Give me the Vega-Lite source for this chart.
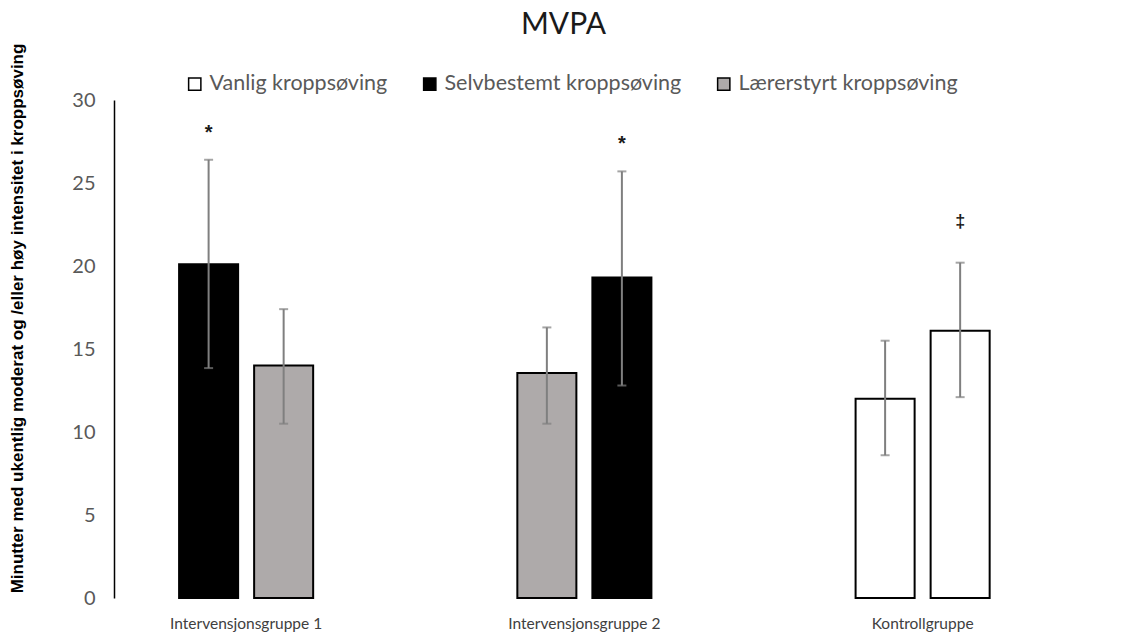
{
  "$schema": "https://vega.github.io/schema/vega-lite/v6.json",
  "autosize": "none",
  "width": 981,
  "height": 498,
  "padding": {"left": 114, "top": 100, "right": 30, "bottom": 43},
  "background": "white",
  "title": {"text": "MVPA", "font": "Lato", "fontSize": 30, "fontWeight": "normal", "color": "#1a1a1a", "anchor": "middle", "dx": -41, "offset": 3},
  "config": {"view": {"stroke": null}},
  "data": {"values": [
    {"gruppe": "Intervensjonsgruppe 1", "periode": "1", "type": "Selvbestemt kroppsøving", "mean": 20.1, "lo": 13.85, "hi": 26.4, "sig": "*"},
    {"gruppe": "Intervensjonsgruppe 1", "periode": "2", "type": "Lærerstyrt kroppsøving", "mean": 14.0, "lo": 10.5, "hi": 17.4, "sig": ""},
    {"gruppe": "Intervensjonsgruppe 2", "periode": "1", "type": "Lærerstyrt kroppsøving", "mean": 13.55, "lo": 10.5, "hi": 16.3, "sig": ""},
    {"gruppe": "Intervensjonsgruppe 2", "periode": "2", "type": "Selvbestemt kroppsøving", "mean": 19.3, "lo": 12.8, "hi": 25.7, "sig": "*"},
    {"gruppe": "Kontrollgruppe", "periode": "1", "type": "Vanlig kroppsøving", "mean": 12.0, "lo": 8.6, "hi": 15.5, "sig": ""},
    {"gruppe": "Kontrollgruppe", "periode": "2", "type": "Vanlig kroppsøving", "mean": 16.1, "lo": 12.1, "hi": 20.2, "sig": "‡"}
  ]},
  "encoding": {
    "x": {"field": "gruppe", "type": "nominal", "sort": null,
      "scale": {"range": [-37, 977.75], "paddingInner": 0.16, "paddingOuter": 0.08},
      "axis": {"title": null, "domain": false, "ticks": false, "labelAngle": 0, "labelFont": "Lato", "labelFontSize": 15.5, "labelColor": "#404040", "labelPadding": 18}},
    "xOffset": {"field": "periode", "type": "nominal", "scale": {"paddingInner": 0.2133, "paddingOuter": 1}}
  },
  "layer": [
    {
      "mark": {"type": "bar", "stroke": "black", "strokeWidth": 2},
      "encoding": {
        "y": {"field": "mean", "type": "quantitative",
          "scale": {"domain": [0, 30], "nice": false},
          "axis": {"values": [0, 5, 10, 15, 20, 25, 30], "grid": false, "ticks": false, "domainColor": "black", "domainWidth": 1.5,
            "labelFont": "Lato", "labelFontSize": 20, "labelColor": "#595959", "labelPadding": 19,
            "title": "Minutter med ukentlig moderat og /eller høy intensitet i kroppsøving",
            "titleFont": "Liberation Sans", "titleFontSize": 17, "titleFontWeight": "bold", "titleColor": "black",
            "titleAngle": -90, "titleX": -97, "titleY": 218, "titleAlign": "center", "titleBaseline": "middle"}},
        "fill": {"field": "type", "type": "nominal",
          "scale": {"domain": ["Vanlig kroppsøving", "Selvbestemt kroppsøving", "Lærerstyrt kroppsøving"], "range": ["#FFFFFF", "#000000", "#AEAAAA"]},
          "legend": {"title": null, "orient": "none", "direction": "horizontal", "legendX": 70, "legendY": -27,
            "symbolType": "square", "symbolSize": 150, "symbolStrokeColor": "black", "symbolStrokeWidth": 1.5,
            "labelFont": "Lato", "labelFontSize": 21.5, "labelColor": "#595959", "labelLimit": 400, "columnPadding": 31, "labelOffset": 4}}
      }
    },
    {
      "mark": {"type": "rule", "color": "#7F7F7F", "strokeWidth": 2},
      "encoding": {"y": {"field": "lo", "type": "quantitative"}, "y2": {"field": "hi"}}
    },
    {
      "mark": {"type": "tick", "color": "#7F7F7F", "thickness": 2, "size": 9},
      "encoding": {"y": {"field": "lo", "type": "quantitative"}}
    },
    {
      "mark": {"type": "tick", "color": "#7F7F7F", "thickness": 2, "size": 9},
      "encoding": {"y": {"field": "hi", "type": "quantitative"}}
    },
    {
      "transform": [{"filter": "datum.sig == '*'"}],
      "mark": {"type": "text", "font": "Liberation Sans", "fontSize": 20, "fontWeight": "bold", "color": "#1a1a1a", "baseline": "middle", "dy": -27},
      "encoding": {"y": {"field": "hi", "type": "quantitative"}, "text": {"field": "sig"}}
    },
    {
      "transform": [{"filter": "datum.sig == '‡'"}],
      "mark": {"type": "text", "font": "Liberation Sans", "fontSize": 18, "fontWeight": "bold", "color": "#1a1a1a", "baseline": "middle", "dy": -41},
      "encoding": {"y": {"field": "hi", "type": "quantitative"}, "text": {"field": "sig"}}
    },
    {
      "mark": {"type": "rule", "color": "black", "strokeWidth": 1.5},
      "encoding": {"y": {"datum": 0}}
    }
  ]
}
